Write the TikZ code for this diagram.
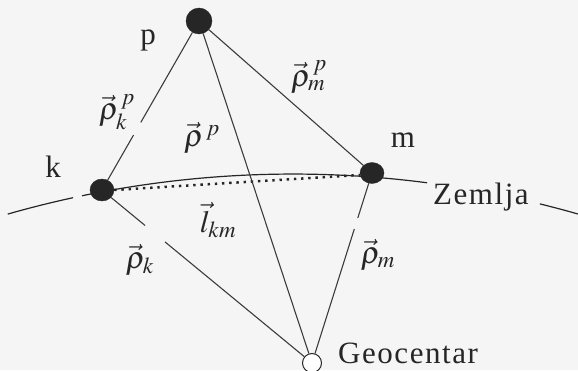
\documentclass[tikz,border=0pt]{standalone}
\usepackage{mathptmx}
\usepackage{fontspec}
\setmainfont{Liberation Serif}
\usetikzlibrary{calc,shapes.geometric}
\definecolor{ink}{HTML}{262626}
\definecolor{bg}{HTML}{F5F5F5}
\tikzset{
  every node/.style={font=\fontsize{31}{35}\selectfont, text=ink},
  dot/.style={circle, fill=ink, draw=ink, inner sep=0pt, minimum size=26pt},
  geo/.style={circle, fill=white, draw=ink, line width=1pt, inner sep=0pt, minimum size=19pt},
  conn/.style={draw=ink!90, line width=1.1pt},
  earth/.style={draw=ink, line width=1.2pt},
  chord/.style={draw=ink, line width=2.5pt, dash pattern=on 2.4pt off 4.8pt},
  lbl/.style={inner sep=1pt},
  mathlbl/.style={inner sep=1pt, font=\fontsize{31}{35}\selectfont},
  spaced/.style={font=\fontsize{31}{35}\selectfont\addfontfeature{LetterSpace=5}}
}
\begin{document}
\begin{tikzpicture}[x=1pt,y=1pt]
\fill[bg] (0,0) rectangle (578,370);
\useasboundingbox (0,0) rectangle (578,370);
% Earth arc (large circle)
\coordinate (C) at (293,-839);
\draw[earth] (C) ++(106:1035pt) arc[start angle=106, end angle=102.27, radius=1035pt];
\draw[earth] (C) ++(101.76:1035pt) arc[start angle=101.76, end angle=82.56, radius=1035pt];
\draw[earth] (C) ++(76.2:1035pt) arc[start angle=76.2, end angle=74.0, radius=1035pt];
% points
\node[dot] (p) at (199,349) {};
\node[dot, ellipse, minimum width=24pt, minimum height=22pt] (k) at (102,180) {};
\node[dot, ellipse, minimum width=24pt, minimum height=21pt] (m) at (372,197) {};
\node[geo] (g) at (312,7) {};
% chord
\draw[chord] (k.east) -- ([yshift=-2pt]m.west);
% connectors
\draw[conn] (p) -- ($(p)!0.60!(k)$);
\draw[conn] ($(p)!0.675!(k)$) -- (k);
\draw[conn] (p) -- (m);
\draw[conn] (p) -- (g);
\draw[conn] (k) -- ($(k)!0.205!(g)$);
\draw[conn] ($(k)!0.30!(g)$) -- (g);
\draw[conn] (m) -- ($(m)!0.237!(g)$);
\draw[conn] ($(m)!0.295!(g)$) -- (g);
% labels
\node[lbl] (lp) at (148,330) {p};
\node[lbl] (lk) at (53,203) {k};
\node[lbl] (lm) at (403,230) {m};
\node[lbl, spaced, anchor=base west] (lz) at (432,166) {Zemlja};
\node[lbl, spaced, anchor=base west] (lg) at (337,7) {Geocentar};
\node[mathlbl] (rkp) at (117,258) {$\vec{\rho}_{k}^{\,p}$};
\node[mathlbl] (rp) at (202,232) {$\vec{\rho}^{\,p}$};
\node[mathlbl] (rmp) at (309,293) {$\vec{\rho}_{m}^{\,p}$};
\node[mathlbl] (lkm) at (218,150) {$\vec{l}_{km}$};
\node[mathlbl] (rk) at (140,110) {$\vec{\rho}_{k}$};
\node[mathlbl] (rm) at (378,115) {$\vec{\rho}_{m}$};
\end{tikzpicture}
\end{document}
